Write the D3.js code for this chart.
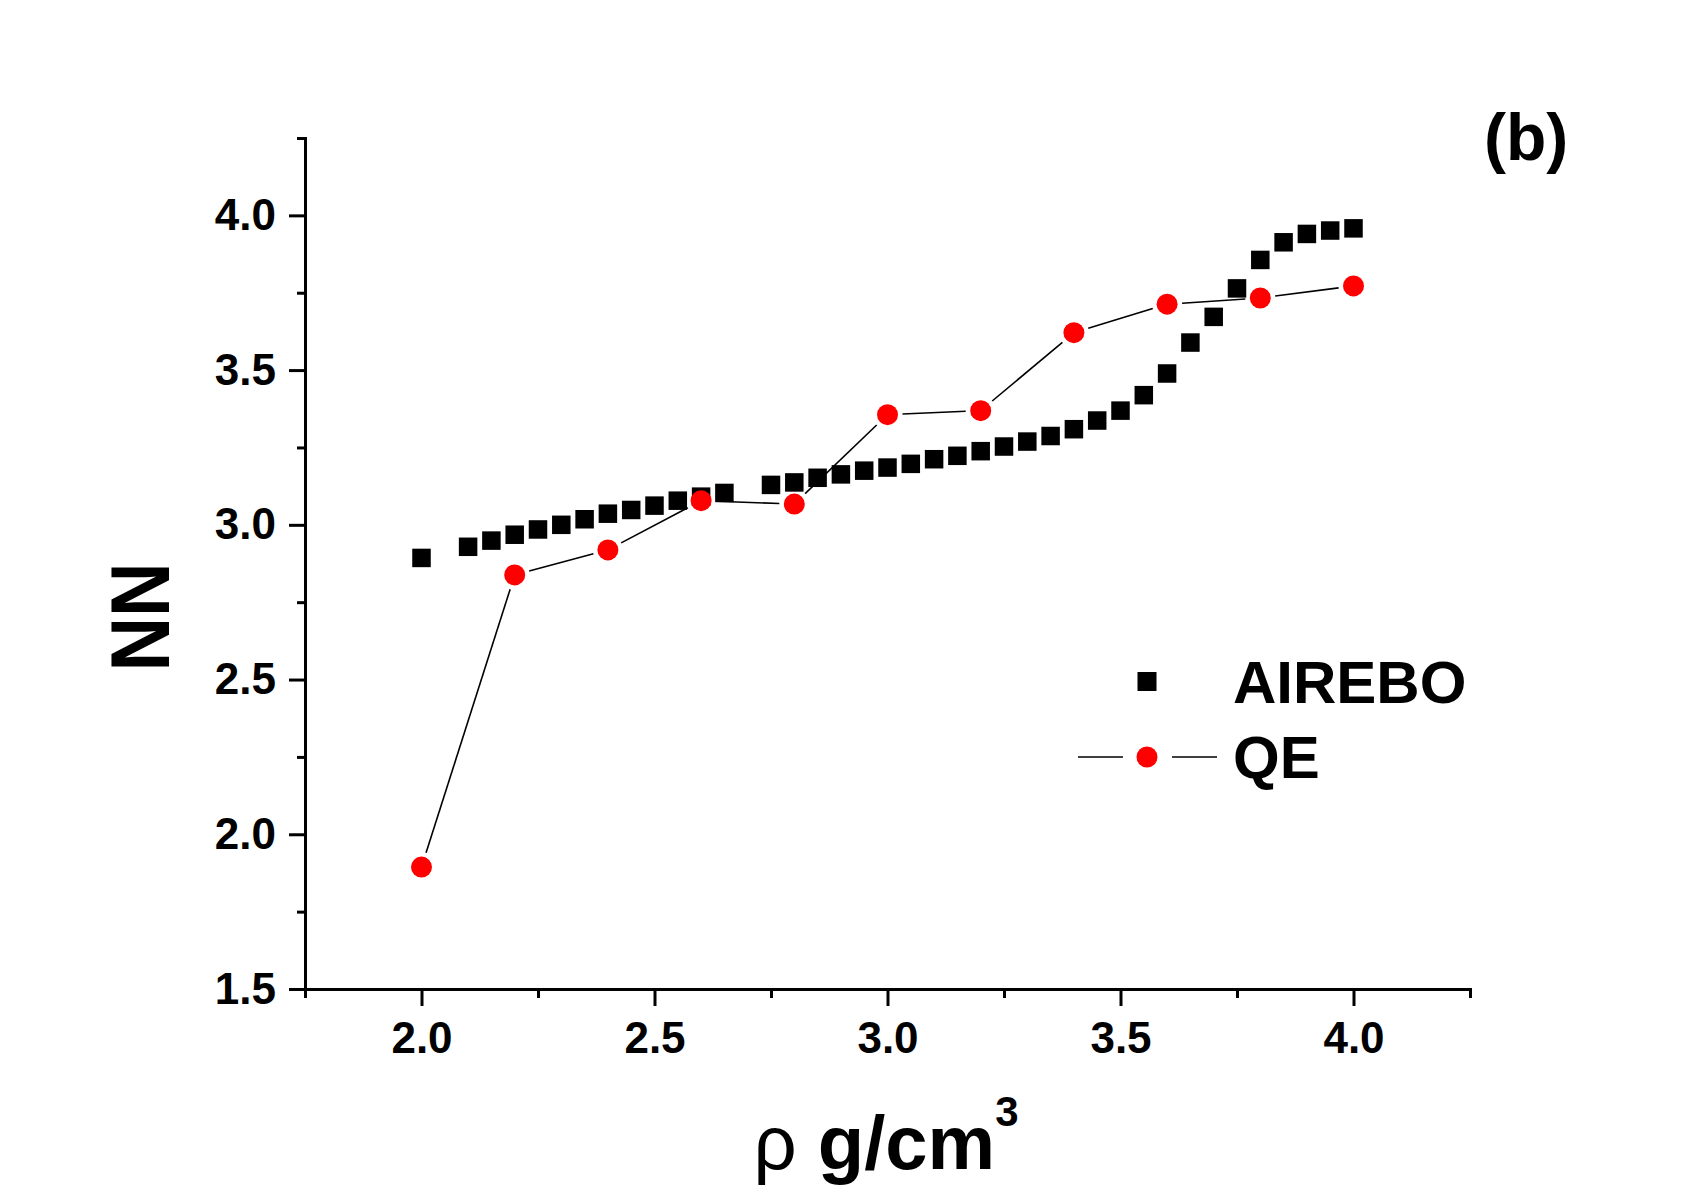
<!DOCTYPE html>
<html>
<head>
<meta charset="utf-8">
<script src="https://cdn.jsdelivr.net/npm/d3@7"></script>
<style>
body{margin:0;background:#fff}
svg{display:block;background:#fff}
text{font-family:"Liberation Sans",Arial,sans-serif;font-weight:bold;fill:#000}
</style>
</head>
<body>
<svg id="chart" width="1707" height="1186"></svg>
<script>
'use strict'

// density (g/cm3) and nearest neighbours
var airebo_rho = [2.0, 2.1, 2.15, 2.2, 2.25, 2.3, 2.35, 2.4, 2.45, 2.5, 2.55, 2.6, 2.65,
                  2.75, 2.8, 2.85, 2.9, 2.95, 3.0, 3.05, 3.1, 3.15, 3.2, 3.25, 3.3, 3.35,
                  3.4, 3.45, 3.5, 3.55, 3.6, 3.65, 3.7, 3.75, 3.8, 3.85, 3.9, 3.95, 4.0]
var airebo_nn  = [2.893, 2.929, 2.949, 2.968, 2.985, 3.000, 3.018, 3.036, 3.048, 3.062, 3.078, 3.091, 3.103,
                  3.129, 3.137, 3.152, 3.163, 3.175, 3.185, 3.197, 3.212, 3.223, 3.238, 3.253, 3.269, 3.287,
                  3.309, 3.337, 3.369, 3.419, 3.489, 3.589, 3.672, 3.764, 3.856, 3.913, 3.940, 3.951, 3.958]

var qe_rho = [2.0, 2.2, 2.4, 2.6, 2.8, 3.0, 3.2, 3.4, 3.6, 3.8, 4.0]
var qe_nn  = [1.894, 2.838, 2.919, 3.078, 3.067, 3.356, 3.369, 3.621, 3.713, 3.733, 3.772]

var xMajor = [2.0, 2.5, 3.0, 3.5, 4.0]
var xMinor = [1.75, 2.25, 2.75, 3.25, 3.75, 4.25]
var yMajor = [1.5, 2.0, 2.5, 3.0, 3.5, 4.0]
var yMinor = [1.75, 2.25, 2.75, 3.25, 3.75, 4.25]

var series = [
  {name: 'AIREBO', rho: airebo_rho, nn: airebo_nn},
  {name: 'QE', rho: qe_rho, nn: qe_nn}
]

var svg = d3.select('#chart')

var x = d3.scaleLinear().domain([1.75, 4.25]).range([305, 1470])
var y = d3.scaleLinear().domain([1.5, 4.25]).range([989, 138])

var fmt = d3.format('.1f')

// minor ticks first, then the major axes on top
svg.append('g')
    .attr('class', 'minor')
    .attr('transform', 'translate(0,' + y.range()[0] + ')')
    .call(d3.axisBottom(x).tickValues(xMinor).tickSize(9).tickFormat(''))
svg.append('g')
    .attr('class', 'minor')
    .attr('transform', 'translate(' + x.range()[0] + ',0)')
    .call(d3.axisLeft(y).tickValues(yMinor).tickSize(8).tickFormat(''))
svg.selectAll('.minor .domain').remove()

var gx = svg.append('g')
    .attr('transform', 'translate(0,' + y.range()[0] + ')')
    .call(d3.axisBottom(x).tickValues(xMajor).tickSize(17).tickSizeOuter(0).tickPadding(16).tickFormat(fmt))

var gy = svg.append('g')
    .attr('transform', 'translate(' + x.range()[0] + ',0)')
    .call(d3.axisLeft(y).tickValues(yMajor).tickSize(16).tickSizeOuter(0).tickPadding(13).tickFormat(fmt))

svg.selectAll('.tick line').attr('stroke', '#000').attr('stroke-width', 3)
svg.selectAll('.domain').attr('stroke', '#000').attr('stroke-width', 3).attr('stroke-linecap', 'square')
svg.selectAll('.tick text')
    .style('font-family', '"Liberation Sans",Arial,sans-serif')
    .style('font-weight', 'bold')
    .style('font-size', '44px')
    .attr('fill', '#000')

// AIREBO squares
var sq = 18.5
var airebo = series[0]
svg.append('g').selectAll('rect')
  .data(d3.range(airebo.rho.length))
  .enter().append('rect')
    .attr('x', i => x(airebo.rho[i]) - sq / 2)
    .attr('y', i => y(airebo.nn[i]) - sq / 2)
    .attr('width', sq)
    .attr('height', sq)
    .attr('fill', '#000')

// QE line, with the little gaps around each symbol
var qe = series[1]
var gap = 15
var pts = qe.rho.map((r, i) => [x(r), y(qe.nn[i])])
var segs = []
for (var i = 0; i < pts.length - 1; i++) {
  var a = pts[i], b = pts[i + 1]
  var dx = b[0] - a[0], dy = b[1] - a[1]
  var len = Math.sqrt(dx * dx + dy * dy)
  if (len <= 2 * gap) continue
  var ux = dx / len, uy = dy / len
  segs.push([a[0] + ux * gap, a[1] + uy * gap, b[0] - ux * gap, b[1] - uy * gap])
}
svg.append('g').selectAll('line')
  .data(segs)
  .enter().append('line')
    .attr('x1', d => d[0]).attr('y1', d => d[1])
    .attr('x2', d => d[2]).attr('y2', d => d[3])
    .attr('stroke', '#000')
    .attr('stroke-width', 1.6)

svg.append('g').selectAll('circle')
  .data(pts)
  .enter().append('circle')
    .attr('cx', d => d[0])
    .attr('cy', d => d[1])
    .attr('r', 10.5)
    .attr('fill', '#ff0000')

// legend
var leg = svg.append('g').attr('transform', 'translate(1147,0)')
leg.append('rect')
    .attr('x', -9.5).attr('y', 672).attr('width', 19).attr('height', 19)
    .attr('fill', '#000')
leg.append('line').attr('x1', -69).attr('x2', -24).attr('y1', 757).attr('y2', 757)
    .attr('stroke', '#000').attr('stroke-width', 1.4)
leg.append('line').attr('x1', 25).attr('x2', 70).attr('y1', 757).attr('y2', 757)
    .attr('stroke', '#000').attr('stroke-width', 1.4)
leg.append('circle').attr('cx', 0).attr('cy', 757).attr('r', 10.5).attr('fill', '#ff0000')
leg.selectAll('text.lbl')
  .data(series)
  .enter().append('text')
    .attr('class', 'lbl')
    .attr('x', 86)
    .attr('y', (d, i) => 703 + i * 75)
    .style('font-size', '60px')
    .text(d => d.name)

// axis titles
svg.append('text')
    .attr('transform', 'translate(169,617) rotate(-90)')
    .attr('text-anchor', 'middle')
    .attr('textLength', 109)
    .attr('lengthAdjust', 'spacingAndGlyphs')
    .style('font-size', '84px')
    .text('NN')

// bottom title sits right at the lower edge, like the original
var xt = svg.append('text')
    .attr('x', 886)
    .attr('y', 1169)
    .attr('text-anchor', 'middle')
    .style('font-size', '76px')
xt.append('tspan').style('font-weight', 'normal').text('ρ ')
xt.append('tspan').text('g/cm')
xt.append('tspan').attr('dy', -43).style('font-size', '42px').text('3')

svg.append('text')
    .attr('x', 1484)
    .attr('y', 160)
    .style('font-size', '66px')
    .text('(b)')
</script>
</body>
</html>
